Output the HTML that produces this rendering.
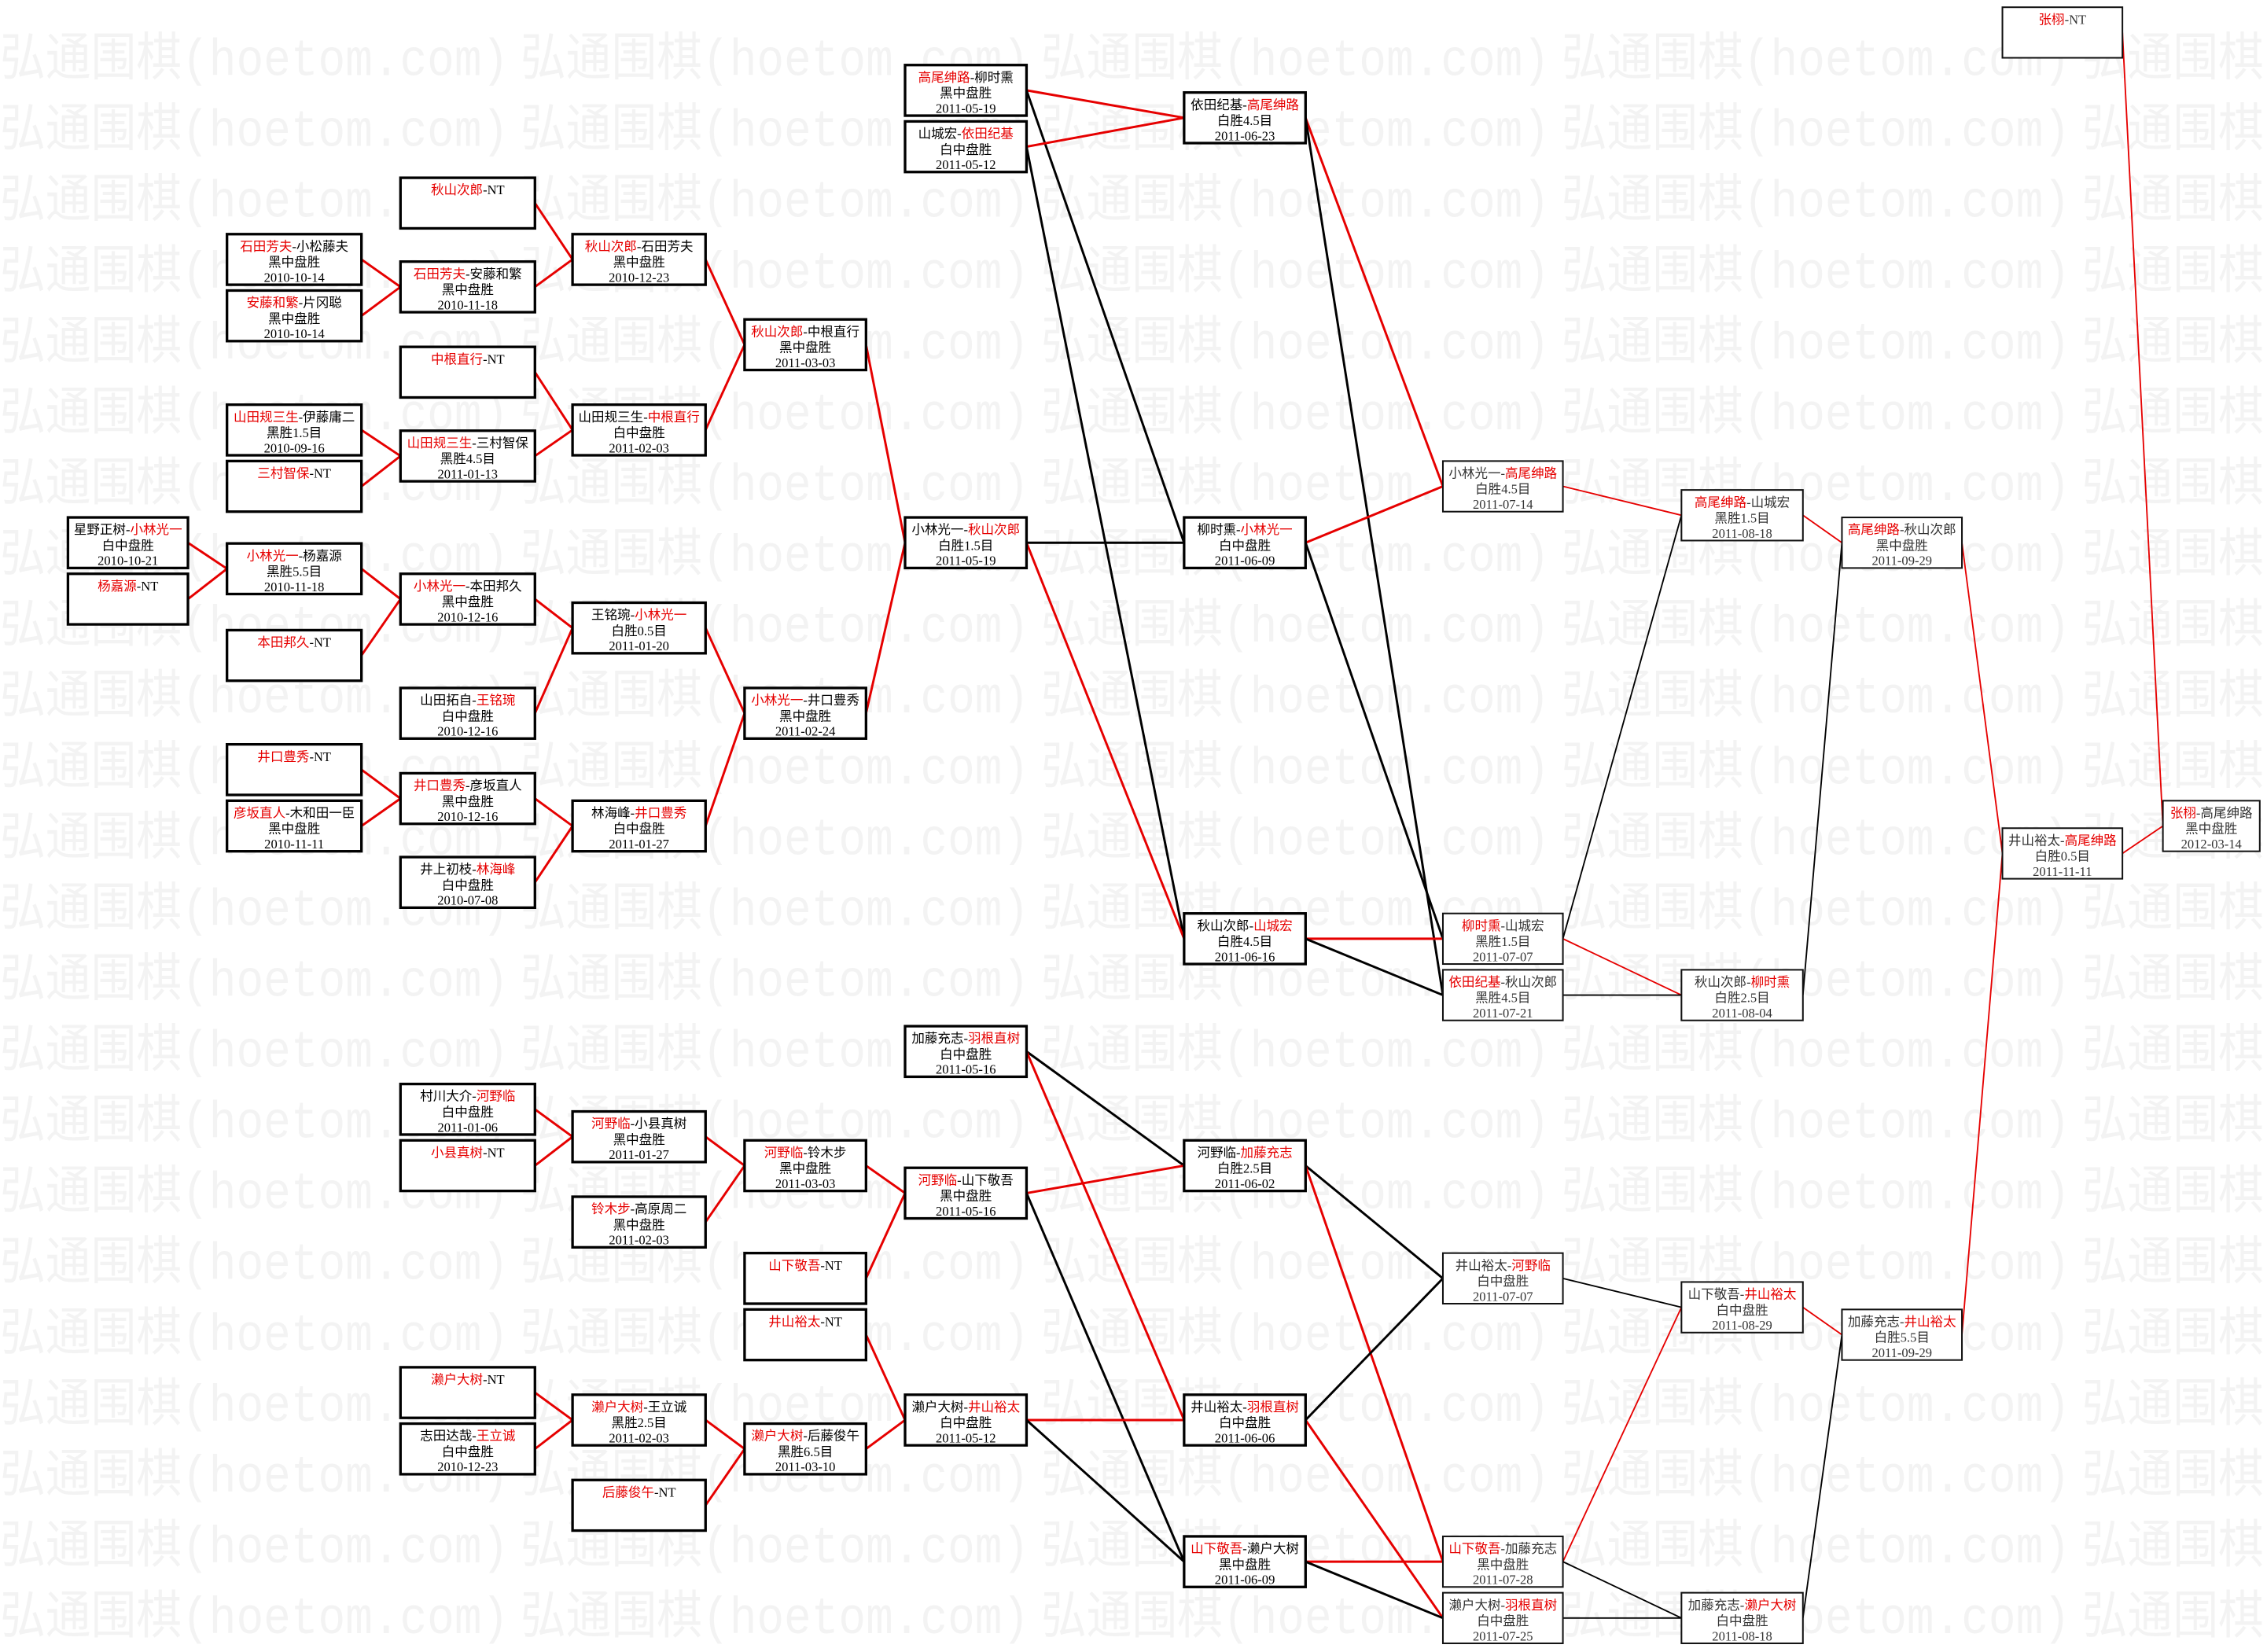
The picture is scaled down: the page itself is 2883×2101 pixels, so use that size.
<!DOCTYPE html>
<html><head><meta charset="utf-8"><style>
html,body{margin:0;padding:0;background:#fff;}
svg{display:block;}
.w{font-family:"Liberation Mono","Noto Sans CJK SC",monospace;font-size:36px;fill:#f3f3f3;}
.t{font-family:"Liberation Serif","Noto Sans CJK SC",serif;font-size:9px;fill:#000;text-anchor:middle;}
.t2{font-family:"Liberation Serif","Noto Sans CJK SC",serif;font-size:9px;fill:#333;text-anchor:middle;}
.r{fill:#e60000;}
.b{fill:#fff;stroke:#000;stroke-width:1.8;}
.b2{fill:#fff;stroke:#111;stroke-width:1.1;}
.lr{stroke:#e60000;stroke-width:1.6;}
.lk{stroke:#000;stroke-width:1.6;}
.sr{stroke:#e60000;stroke-width:1;}
.sk{stroke:#000;stroke-width:1;}
</style></head><body>
<svg width="2883" height="2101" viewBox="0 0 1568 1143" preserveAspectRatio="none" xmlns="http://www.w3.org/2000/svg">
<g class="w">
<text x="0" y="52" textLength="352" lengthAdjust="spacingAndGlyphs">弘通围棋(hoetom.com)</text><text x="360" y="52" textLength="352" lengthAdjust="spacingAndGlyphs">弘通围棋(hoetom.com)</text><text x="720" y="52" textLength="352" lengthAdjust="spacingAndGlyphs">弘通围棋(hoetom.com)</text><text x="1080" y="52" textLength="352" lengthAdjust="spacingAndGlyphs">弘通围棋(hoetom.com)</text><text x="1440" y="52" textLength="352" lengthAdjust="spacingAndGlyphs">弘通围棋(hoetom.com)</text>
<text x="0" y="101" textLength="352" lengthAdjust="spacingAndGlyphs">弘通围棋(hoetom.com)</text><text x="360" y="101" textLength="352" lengthAdjust="spacingAndGlyphs">弘通围棋(hoetom.com)</text><text x="720" y="101" textLength="352" lengthAdjust="spacingAndGlyphs">弘通围棋(hoetom.com)</text><text x="1080" y="101" textLength="352" lengthAdjust="spacingAndGlyphs">弘通围棋(hoetom.com)</text><text x="1440" y="101" textLength="352" lengthAdjust="spacingAndGlyphs">弘通围棋(hoetom.com)</text>
<text x="0" y="150" textLength="352" lengthAdjust="spacingAndGlyphs">弘通围棋(hoetom.com)</text><text x="360" y="150" textLength="352" lengthAdjust="spacingAndGlyphs">弘通围棋(hoetom.com)</text><text x="720" y="150" textLength="352" lengthAdjust="spacingAndGlyphs">弘通围棋(hoetom.com)</text><text x="1080" y="150" textLength="352" lengthAdjust="spacingAndGlyphs">弘通围棋(hoetom.com)</text><text x="1440" y="150" textLength="352" lengthAdjust="spacingAndGlyphs">弘通围棋(hoetom.com)</text>
<text x="0" y="199" textLength="352" lengthAdjust="spacingAndGlyphs">弘通围棋(hoetom.com)</text><text x="360" y="199" textLength="352" lengthAdjust="spacingAndGlyphs">弘通围棋(hoetom.com)</text><text x="720" y="199" textLength="352" lengthAdjust="spacingAndGlyphs">弘通围棋(hoetom.com)</text><text x="1080" y="199" textLength="352" lengthAdjust="spacingAndGlyphs">弘通围棋(hoetom.com)</text><text x="1440" y="199" textLength="352" lengthAdjust="spacingAndGlyphs">弘通围棋(hoetom.com)</text>
<text x="0" y="248" textLength="352" lengthAdjust="spacingAndGlyphs">弘通围棋(hoetom.com)</text><text x="360" y="248" textLength="352" lengthAdjust="spacingAndGlyphs">弘通围棋(hoetom.com)</text><text x="720" y="248" textLength="352" lengthAdjust="spacingAndGlyphs">弘通围棋(hoetom.com)</text><text x="1080" y="248" textLength="352" lengthAdjust="spacingAndGlyphs">弘通围棋(hoetom.com)</text><text x="1440" y="248" textLength="352" lengthAdjust="spacingAndGlyphs">弘通围棋(hoetom.com)</text>
<text x="0" y="297" textLength="352" lengthAdjust="spacingAndGlyphs">弘通围棋(hoetom.com)</text><text x="360" y="297" textLength="352" lengthAdjust="spacingAndGlyphs">弘通围棋(hoetom.com)</text><text x="720" y="297" textLength="352" lengthAdjust="spacingAndGlyphs">弘通围棋(hoetom.com)</text><text x="1080" y="297" textLength="352" lengthAdjust="spacingAndGlyphs">弘通围棋(hoetom.com)</text><text x="1440" y="297" textLength="352" lengthAdjust="spacingAndGlyphs">弘通围棋(hoetom.com)</text>
<text x="0" y="346" textLength="352" lengthAdjust="spacingAndGlyphs">弘通围棋(hoetom.com)</text><text x="360" y="346" textLength="352" lengthAdjust="spacingAndGlyphs">弘通围棋(hoetom.com)</text><text x="720" y="346" textLength="352" lengthAdjust="spacingAndGlyphs">弘通围棋(hoetom.com)</text><text x="1080" y="346" textLength="352" lengthAdjust="spacingAndGlyphs">弘通围棋(hoetom.com)</text><text x="1440" y="346" textLength="352" lengthAdjust="spacingAndGlyphs">弘通围棋(hoetom.com)</text>
<text x="0" y="395" textLength="352" lengthAdjust="spacingAndGlyphs">弘通围棋(hoetom.com)</text><text x="360" y="395" textLength="352" lengthAdjust="spacingAndGlyphs">弘通围棋(hoetom.com)</text><text x="720" y="395" textLength="352" lengthAdjust="spacingAndGlyphs">弘通围棋(hoetom.com)</text><text x="1080" y="395" textLength="352" lengthAdjust="spacingAndGlyphs">弘通围棋(hoetom.com)</text><text x="1440" y="395" textLength="352" lengthAdjust="spacingAndGlyphs">弘通围棋(hoetom.com)</text>
<text x="0" y="444" textLength="352" lengthAdjust="spacingAndGlyphs">弘通围棋(hoetom.com)</text><text x="360" y="444" textLength="352" lengthAdjust="spacingAndGlyphs">弘通围棋(hoetom.com)</text><text x="720" y="444" textLength="352" lengthAdjust="spacingAndGlyphs">弘通围棋(hoetom.com)</text><text x="1080" y="444" textLength="352" lengthAdjust="spacingAndGlyphs">弘通围棋(hoetom.com)</text><text x="1440" y="444" textLength="352" lengthAdjust="spacingAndGlyphs">弘通围棋(hoetom.com)</text>
<text x="0" y="493" textLength="352" lengthAdjust="spacingAndGlyphs">弘通围棋(hoetom.com)</text><text x="360" y="493" textLength="352" lengthAdjust="spacingAndGlyphs">弘通围棋(hoetom.com)</text><text x="720" y="493" textLength="352" lengthAdjust="spacingAndGlyphs">弘通围棋(hoetom.com)</text><text x="1080" y="493" textLength="352" lengthAdjust="spacingAndGlyphs">弘通围棋(hoetom.com)</text><text x="1440" y="493" textLength="352" lengthAdjust="spacingAndGlyphs">弘通围棋(hoetom.com)</text>
<text x="0" y="542" textLength="352" lengthAdjust="spacingAndGlyphs">弘通围棋(hoetom.com)</text><text x="360" y="542" textLength="352" lengthAdjust="spacingAndGlyphs">弘通围棋(hoetom.com)</text><text x="720" y="542" textLength="352" lengthAdjust="spacingAndGlyphs">弘通围棋(hoetom.com)</text><text x="1080" y="542" textLength="352" lengthAdjust="spacingAndGlyphs">弘通围棋(hoetom.com)</text><text x="1440" y="542" textLength="352" lengthAdjust="spacingAndGlyphs">弘通围棋(hoetom.com)</text>
<text x="0" y="591" textLength="352" lengthAdjust="spacingAndGlyphs">弘通围棋(hoetom.com)</text><text x="360" y="591" textLength="352" lengthAdjust="spacingAndGlyphs">弘通围棋(hoetom.com)</text><text x="720" y="591" textLength="352" lengthAdjust="spacingAndGlyphs">弘通围棋(hoetom.com)</text><text x="1080" y="591" textLength="352" lengthAdjust="spacingAndGlyphs">弘通围棋(hoetom.com)</text><text x="1440" y="591" textLength="352" lengthAdjust="spacingAndGlyphs">弘通围棋(hoetom.com)</text>
<text x="0" y="640" textLength="352" lengthAdjust="spacingAndGlyphs">弘通围棋(hoetom.com)</text><text x="360" y="640" textLength="352" lengthAdjust="spacingAndGlyphs">弘通围棋(hoetom.com)</text><text x="720" y="640" textLength="352" lengthAdjust="spacingAndGlyphs">弘通围棋(hoetom.com)</text><text x="1080" y="640" textLength="352" lengthAdjust="spacingAndGlyphs">弘通围棋(hoetom.com)</text><text x="1440" y="640" textLength="352" lengthAdjust="spacingAndGlyphs">弘通围棋(hoetom.com)</text>
<text x="0" y="689" textLength="352" lengthAdjust="spacingAndGlyphs">弘通围棋(hoetom.com)</text><text x="360" y="689" textLength="352" lengthAdjust="spacingAndGlyphs">弘通围棋(hoetom.com)</text><text x="720" y="689" textLength="352" lengthAdjust="spacingAndGlyphs">弘通围棋(hoetom.com)</text><text x="1080" y="689" textLength="352" lengthAdjust="spacingAndGlyphs">弘通围棋(hoetom.com)</text><text x="1440" y="689" textLength="352" lengthAdjust="spacingAndGlyphs">弘通围棋(hoetom.com)</text>
<text x="0" y="738" textLength="352" lengthAdjust="spacingAndGlyphs">弘通围棋(hoetom.com)</text><text x="360" y="738" textLength="352" lengthAdjust="spacingAndGlyphs">弘通围棋(hoetom.com)</text><text x="720" y="738" textLength="352" lengthAdjust="spacingAndGlyphs">弘通围棋(hoetom.com)</text><text x="1080" y="738" textLength="352" lengthAdjust="spacingAndGlyphs">弘通围棋(hoetom.com)</text><text x="1440" y="738" textLength="352" lengthAdjust="spacingAndGlyphs">弘通围棋(hoetom.com)</text>
<text x="0" y="787" textLength="352" lengthAdjust="spacingAndGlyphs">弘通围棋(hoetom.com)</text><text x="360" y="787" textLength="352" lengthAdjust="spacingAndGlyphs">弘通围棋(hoetom.com)</text><text x="720" y="787" textLength="352" lengthAdjust="spacingAndGlyphs">弘通围棋(hoetom.com)</text><text x="1080" y="787" textLength="352" lengthAdjust="spacingAndGlyphs">弘通围棋(hoetom.com)</text><text x="1440" y="787" textLength="352" lengthAdjust="spacingAndGlyphs">弘通围棋(hoetom.com)</text>
<text x="0" y="836" textLength="352" lengthAdjust="spacingAndGlyphs">弘通围棋(hoetom.com)</text><text x="360" y="836" textLength="352" lengthAdjust="spacingAndGlyphs">弘通围棋(hoetom.com)</text><text x="720" y="836" textLength="352" lengthAdjust="spacingAndGlyphs">弘通围棋(hoetom.com)</text><text x="1080" y="836" textLength="352" lengthAdjust="spacingAndGlyphs">弘通围棋(hoetom.com)</text><text x="1440" y="836" textLength="352" lengthAdjust="spacingAndGlyphs">弘通围棋(hoetom.com)</text>
<text x="0" y="885" textLength="352" lengthAdjust="spacingAndGlyphs">弘通围棋(hoetom.com)</text><text x="360" y="885" textLength="352" lengthAdjust="spacingAndGlyphs">弘通围棋(hoetom.com)</text><text x="720" y="885" textLength="352" lengthAdjust="spacingAndGlyphs">弘通围棋(hoetom.com)</text><text x="1080" y="885" textLength="352" lengthAdjust="spacingAndGlyphs">弘通围棋(hoetom.com)</text><text x="1440" y="885" textLength="352" lengthAdjust="spacingAndGlyphs">弘通围棋(hoetom.com)</text>
<text x="0" y="934" textLength="352" lengthAdjust="spacingAndGlyphs">弘通围棋(hoetom.com)</text><text x="360" y="934" textLength="352" lengthAdjust="spacingAndGlyphs">弘通围棋(hoetom.com)</text><text x="720" y="934" textLength="352" lengthAdjust="spacingAndGlyphs">弘通围棋(hoetom.com)</text><text x="1080" y="934" textLength="352" lengthAdjust="spacingAndGlyphs">弘通围棋(hoetom.com)</text><text x="1440" y="934" textLength="352" lengthAdjust="spacingAndGlyphs">弘通围棋(hoetom.com)</text>
<text x="0" y="983" textLength="352" lengthAdjust="spacingAndGlyphs">弘通围棋(hoetom.com)</text><text x="360" y="983" textLength="352" lengthAdjust="spacingAndGlyphs">弘通围棋(hoetom.com)</text><text x="720" y="983" textLength="352" lengthAdjust="spacingAndGlyphs">弘通围棋(hoetom.com)</text><text x="1080" y="983" textLength="352" lengthAdjust="spacingAndGlyphs">弘通围棋(hoetom.com)</text><text x="1440" y="983" textLength="352" lengthAdjust="spacingAndGlyphs">弘通围棋(hoetom.com)</text>
<text x="0" y="1032" textLength="352" lengthAdjust="spacingAndGlyphs">弘通围棋(hoetom.com)</text><text x="360" y="1032" textLength="352" lengthAdjust="spacingAndGlyphs">弘通围棋(hoetom.com)</text><text x="720" y="1032" textLength="352" lengthAdjust="spacingAndGlyphs">弘通围棋(hoetom.com)</text><text x="1080" y="1032" textLength="352" lengthAdjust="spacingAndGlyphs">弘通围棋(hoetom.com)</text><text x="1440" y="1032" textLength="352" lengthAdjust="spacingAndGlyphs">弘通围棋(hoetom.com)</text>
<text x="0" y="1081" textLength="352" lengthAdjust="spacingAndGlyphs">弘通围棋(hoetom.com)</text><text x="360" y="1081" textLength="352" lengthAdjust="spacingAndGlyphs">弘通围棋(hoetom.com)</text><text x="720" y="1081" textLength="352" lengthAdjust="spacingAndGlyphs">弘通围棋(hoetom.com)</text><text x="1080" y="1081" textLength="352" lengthAdjust="spacingAndGlyphs">弘通围棋(hoetom.com)</text><text x="1440" y="1081" textLength="352" lengthAdjust="spacingAndGlyphs">弘通围棋(hoetom.com)</text>
<text x="0" y="1130" textLength="352" lengthAdjust="spacingAndGlyphs">弘通围棋(hoetom.com)</text><text x="360" y="1130" textLength="352" lengthAdjust="spacingAndGlyphs">弘通围棋(hoetom.com)</text><text x="720" y="1130" textLength="352" lengthAdjust="spacingAndGlyphs">弘通围棋(hoetom.com)</text><text x="1080" y="1130" textLength="352" lengthAdjust="spacingAndGlyphs">弘通围棋(hoetom.com)</text><text x="1440" y="1130" textLength="352" lengthAdjust="spacingAndGlyphs">弘通围棋(hoetom.com)</text>
</g>

<g class="lr">
<line x1="130" y1="375.5" x2="157" y2="393.5"/><line x1="130" y1="414.5" x2="157" y2="393.5"/>
<line x1="250" y1="179.5" x2="277" y2="198.5"/><line x1="250" y1="218.5" x2="277" y2="198.5"/>
<line x1="250" y1="297.5" x2="277" y2="315.5"/><line x1="250" y1="336.5" x2="277" y2="315.5"/>
<line x1="250" y1="393.5" x2="277" y2="414.5"/><line x1="250" y1="453.5" x2="277" y2="414.5"/>
<line x1="250" y1="532.5" x2="277" y2="552.5"/><line x1="250" y1="571.5" x2="277" y2="552.5"/>
<line x1="370" y1="140.5" x2="396" y2="179.5"/><line x1="370" y1="198.5" x2="396" y2="179.5"/>
<line x1="370" y1="257.5" x2="396" y2="297.5"/><line x1="370" y1="315.5" x2="396" y2="297.5"/>
<line x1="370" y1="414.5" x2="396" y2="434.5"/><line x1="370" y1="493.5" x2="396" y2="434.5"/>
<line x1="370" y1="552.5" x2="396" y2="571.5"/><line x1="370" y1="610.5" x2="396" y2="571.5"/>
<line x1="370" y1="767.5" x2="396" y2="786.5"/><line x1="370" y1="806.5" x2="396" y2="786.5"/>
<line x1="370" y1="963.5" x2="396" y2="982.5"/><line x1="370" y1="1002.5" x2="396" y2="982.5"/>
<line x1="488" y1="179.5" x2="515" y2="238.5"/><line x1="488" y1="297.5" x2="515" y2="238.5"/>
<line x1="488" y1="434.5" x2="515" y2="493.5"/><line x1="488" y1="571.5" x2="515" y2="493.5"/>
<line x1="488" y1="786.5" x2="515" y2="806.5"/><line x1="488" y1="845.5" x2="515" y2="806.5"/>
<line x1="488" y1="982.5" x2="515" y2="1002.5"/><line x1="488" y1="1041.5" x2="515" y2="1002.5"/>
<line x1="599" y1="238.5" x2="626" y2="375.5"/><line x1="599" y1="493.5" x2="626" y2="375.5"/>
<line x1="599" y1="806.5" x2="626" y2="825.5"/><line x1="599" y1="884.5" x2="626" y2="825.5"/>
<line x1="599" y1="923.5" x2="626" y2="982.5"/><line x1="599" y1="1002.5" x2="626" y2="982.5"/>
</g>
<line class="lr" x1="710" y1="62.5" x2="819" y2="81.5"/>
<line class="lk" x1="710" y1="62.5" x2="819" y2="375.5"/>
<line class="lr" x1="710" y1="101.5" x2="819" y2="81.5"/>
<line class="lk" x1="710" y1="101.5" x2="819" y2="649.5"/>
<line class="lk" x1="710" y1="375.5" x2="819" y2="375.5"/>
<line class="lr" x1="710" y1="375.5" x2="819" y2="649.5"/>
<line class="lk" x1="710" y1="727.5" x2="819" y2="806.5"/>
<line class="lr" x1="710" y1="727.5" x2="819" y2="982.5"/>
<line class="lr" x1="710" y1="825.5" x2="819" y2="806.5"/>
<line class="lk" x1="710" y1="825.5" x2="819" y2="1080.5"/>
<line class="lr" x1="710" y1="982.5" x2="819" y2="982.5"/>
<line class="lk" x1="710" y1="982.5" x2="819" y2="1080.5"/>
<line class="lr" x1="903" y1="81.5" x2="998" y2="336.5"/>
<line class="lk" x1="903" y1="81.5" x2="998" y2="688.5"/>
<line class="lr" x1="903" y1="375.5" x2="998" y2="336.5"/>
<line class="lk" x1="903" y1="375.5" x2="998" y2="649.5"/>
<line class="lr" x1="903" y1="649.5" x2="998" y2="649.5"/>
<line class="lk" x1="903" y1="649.5" x2="998" y2="688.5"/>
<line class="lk" x1="903" y1="806.5" x2="998" y2="884.5"/>
<line class="lr" x1="903" y1="806.5" x2="998" y2="1080.5"/>
<line class="lk" x1="903" y1="982.5" x2="998" y2="884.5"/>
<line class="lr" x1="903" y1="982.5" x2="998" y2="1119.5"/>
<line class="lr" x1="903" y1="1080.5" x2="998" y2="1080.5"/>
<line class="lk" x1="903" y1="1080.5" x2="998" y2="1119.5"/>
<line class="sr" x1="1081" y1="336.5" x2="1163" y2="356.5"/>
<line class="sk" x1="1081" y1="649.5" x2="1163" y2="356.5"/>
<line class="sr" x1="1081" y1="649.5" x2="1163" y2="688.5"/>
<line class="sk" x1="1081" y1="688.5" x2="1163" y2="688.5"/>
<line class="sk" x1="1081" y1="884.5" x2="1163" y2="904.5"/>
<line class="sr" x1="1081" y1="1080.5" x2="1163" y2="904.5"/>
<line class="sk" x1="1081" y1="1080.5" x2="1163" y2="1119.5"/>
<line class="sk" x1="1081" y1="1119.5" x2="1163" y2="1119.5"/>
<line class="sr" x1="1247" y1="356.5" x2="1274" y2="375.5"/>
<line class="sk" x1="1247" y1="688.5" x2="1274" y2="375.5"/>
<line class="sr" x1="1247" y1="904.5" x2="1274" y2="923.5"/>
<line class="sk" x1="1247" y1="1119.5" x2="1274" y2="923.5"/>
<line class="sr" x1="1357" y1="375.5" x2="1385" y2="590.5"/>
<line class="sr" x1="1357" y1="923.5" x2="1385" y2="590.5"/>
<line class="sr" x1="1468" y1="22.5" x2="1496" y2="571.5"/>
<line class="sr" x1="1468" y1="590.5" x2="1496" y2="571.5"/>

<rect class="b" x="47" y="358" width="83" height="35"/><text class="t" x="88.5" y="369.5">星野正树-<tspan class="r">小林光一</tspan></text><text class="t" x="88.5" y="380.5">白中盘胜</text><text class="t" x="88.5" y="391">2010-10-21</text>
<rect class="b" x="47" y="397" width="83" height="35"/><text class="t" x="88.5" y="408.5"><tspan class="r">杨嘉源</tspan>-NT</text>
<rect class="b" x="157" y="162" width="93" height="35"/><text class="t" x="203.5" y="173.5"><tspan class="r">石田芳夫</tspan>-小松藤夫</text><text class="t" x="203.5" y="184.5">黑中盘胜</text><text class="t" x="203.5" y="195">2010-10-14</text>
<rect class="b" x="157" y="201" width="93" height="35"/><text class="t" x="203.5" y="212.5"><tspan class="r">安藤和繁</tspan>-片冈聪</text><text class="t" x="203.5" y="223.5">黑中盘胜</text><text class="t" x="203.5" y="234">2010-10-14</text>
<rect class="b" x="157" y="280" width="93" height="35"/><text class="t" x="203.5" y="291.5"><tspan class="r">山田规三生</tspan>-伊藤庸二</text><text class="t" x="203.5" y="302.5">黑胜1.5目</text><text class="t" x="203.5" y="313">2010-09-16</text>
<rect class="b" x="157" y="319" width="93" height="35"/><text class="t" x="203.5" y="330.5"><tspan class="r">三村智保</tspan>-NT</text>
<rect class="b" x="157" y="376" width="93" height="35"/><text class="t" x="203.5" y="387.5"><tspan class="r">小林光一</tspan>-杨嘉源</text><text class="t" x="203.5" y="398.5">黑胜5.5目</text><text class="t" x="203.5" y="409">2010-11-18</text>
<rect class="b" x="157" y="436" width="93" height="35"/><text class="t" x="203.5" y="447.5"><tspan class="r">本田邦久</tspan>-NT</text>
<rect class="b" x="157" y="515" width="93" height="35"/><text class="t" x="203.5" y="526.5"><tspan class="r">井口豊秀</tspan>-NT</text>
<rect class="b" x="157" y="554" width="93" height="35"/><text class="t" x="203.5" y="565.5"><tspan class="r">彦坂直人</tspan>-木和田一臣</text><text class="t" x="203.5" y="576.5">黑中盘胜</text><text class="t" x="203.5" y="587">2010-11-11</text>
<rect class="b" x="277" y="123" width="93" height="35"/><text class="t" x="323.5" y="134.5"><tspan class="r">秋山次郎</tspan>-NT</text>
<rect class="b" x="277" y="181" width="93" height="35"/><text class="t" x="323.5" y="192.5"><tspan class="r">石田芳夫</tspan>-安藤和繁</text><text class="t" x="323.5" y="203.5">黑中盘胜</text><text class="t" x="323.5" y="214">2010-11-18</text>
<rect class="b" x="277" y="240" width="93" height="35"/><text class="t" x="323.5" y="251.5"><tspan class="r">中根直行</tspan>-NT</text>
<rect class="b" x="277" y="298" width="93" height="35"/><text class="t" x="323.5" y="309.5"><tspan class="r">山田规三生</tspan>-三村智保</text><text class="t" x="323.5" y="320.5">黑胜4.5目</text><text class="t" x="323.5" y="331">2011-01-13</text>
<rect class="b" x="277" y="397" width="93" height="35"/><text class="t" x="323.5" y="408.5"><tspan class="r">小林光一</tspan>-本田邦久</text><text class="t" x="323.5" y="419.5">黑中盘胜</text><text class="t" x="323.5" y="430">2010-12-16</text>
<rect class="b" x="277" y="476" width="93" height="35"/><text class="t" x="323.5" y="487.5">山田拓自-<tspan class="r">王铭琬</tspan></text><text class="t" x="323.5" y="498.5">白中盘胜</text><text class="t" x="323.5" y="509">2010-12-16</text>
<rect class="b" x="277" y="535" width="93" height="35"/><text class="t" x="323.5" y="546.5"><tspan class="r">井口豊秀</tspan>-彦坂直人</text><text class="t" x="323.5" y="557.5">黑中盘胜</text><text class="t" x="323.5" y="568">2010-12-16</text>
<rect class="b" x="277" y="593" width="93" height="35"/><text class="t" x="323.5" y="604.5">井上初枝-<tspan class="r">林海峰</tspan></text><text class="t" x="323.5" y="615.5">白中盘胜</text><text class="t" x="323.5" y="626">2010-07-08</text>
<rect class="b" x="277" y="750" width="93" height="35"/><text class="t" x="323.5" y="761.5">村川大介-<tspan class="r">河野临</tspan></text><text class="t" x="323.5" y="772.5">白中盘胜</text><text class="t" x="323.5" y="783">2011-01-06</text>
<rect class="b" x="277" y="789" width="93" height="35"/><text class="t" x="323.5" y="800.5"><tspan class="r">小县真树</tspan>-NT</text>
<rect class="b" x="277" y="946" width="93" height="35"/><text class="t" x="323.5" y="957.5"><tspan class="r">濑户大树</tspan>-NT</text>
<rect class="b" x="277" y="985" width="93" height="35"/><text class="t" x="323.5" y="996.5">志田达哉-<tspan class="r">王立诚</tspan></text><text class="t" x="323.5" y="1007.5">白中盘胜</text><text class="t" x="323.5" y="1018">2010-12-23</text>
<rect class="b" x="396" y="162" width="92" height="35"/><text class="t" x="442" y="173.5"><tspan class="r">秋山次郎</tspan>-石田芳夫</text><text class="t" x="442" y="184.5">黑中盘胜</text><text class="t" x="442" y="195">2010-12-23</text>
<rect class="b" x="396" y="280" width="92" height="35"/><text class="t" x="442" y="291.5">山田规三生-<tspan class="r">中根直行</tspan></text><text class="t" x="442" y="302.5">白中盘胜</text><text class="t" x="442" y="313">2011-02-03</text>
<rect class="b" x="396" y="417" width="92" height="35"/><text class="t" x="442" y="428.5">王铭琬-<tspan class="r">小林光一</tspan></text><text class="t" x="442" y="439.5">白胜0.5目</text><text class="t" x="442" y="450">2011-01-20</text>
<rect class="b" x="396" y="554" width="92" height="35"/><text class="t" x="442" y="565.5">林海峰-<tspan class="r">井口豊秀</tspan></text><text class="t" x="442" y="576.5">白中盘胜</text><text class="t" x="442" y="587">2011-01-27</text>
<rect class="b" x="396" y="769" width="92" height="35"/><text class="t" x="442" y="780.5"><tspan class="r">河野临</tspan>-小县真树</text><text class="t" x="442" y="791.5">黑中盘胜</text><text class="t" x="442" y="802">2011-01-27</text>
<rect class="b" x="396" y="828" width="92" height="35"/><text class="t" x="442" y="839.5"><tspan class="r">铃木步</tspan>-高原周二</text><text class="t" x="442" y="850.5">黑中盘胜</text><text class="t" x="442" y="861">2011-02-03</text>
<rect class="b" x="396" y="965" width="92" height="35"/><text class="t" x="442" y="976.5"><tspan class="r">濑户大树</tspan>-王立诚</text><text class="t" x="442" y="987.5">黑胜2.5目</text><text class="t" x="442" y="998">2011-02-03</text>
<rect class="b" x="396" y="1024" width="92" height="35"/><text class="t" x="442" y="1035.5"><tspan class="r">后藤俊午</tspan>-NT</text>
<rect class="b" x="515" y="221" width="84" height="35"/><text class="t" x="557" y="232.5"><tspan class="r">秋山次郎</tspan>-中根直行</text><text class="t" x="557" y="243.5">黑中盘胜</text><text class="t" x="557" y="254">2011-03-03</text>
<rect class="b" x="515" y="476" width="84" height="35"/><text class="t" x="557" y="487.5"><tspan class="r">小林光一</tspan>-井口豊秀</text><text class="t" x="557" y="498.5">黑中盘胜</text><text class="t" x="557" y="509">2011-02-24</text>
<rect class="b" x="515" y="789" width="84" height="35"/><text class="t" x="557" y="800.5"><tspan class="r">河野临</tspan>-铃木步</text><text class="t" x="557" y="811.5">黑中盘胜</text><text class="t" x="557" y="822">2011-03-03</text>
<rect class="b" x="515" y="867" width="84" height="35"/><text class="t" x="557" y="878.5"><tspan class="r">山下敬吾</tspan>-NT</text>
<rect class="b" x="515" y="906" width="84" height="35"/><text class="t" x="557" y="917.5"><tspan class="r">井山裕太</tspan>-NT</text>
<rect class="b" x="515" y="985" width="84" height="35"/><text class="t" x="557" y="996.5"><tspan class="r">濑户大树</tspan>-后藤俊午</text><text class="t" x="557" y="1007.5">黑胜6.5目</text><text class="t" x="557" y="1018">2011-03-10</text>
<rect class="b" x="626" y="45" width="84" height="35"/><text class="t" x="668" y="56.5"><tspan class="r">高尾绅路</tspan>-柳时熏</text><text class="t" x="668" y="67.5">黑中盘胜</text><text class="t" x="668" y="78">2011-05-19</text>
<rect class="b" x="626" y="84" width="84" height="35"/><text class="t" x="668" y="95.5">山城宏-<tspan class="r">依田纪基</tspan></text><text class="t" x="668" y="106.5">白中盘胜</text><text class="t" x="668" y="117">2011-05-12</text>
<rect class="b" x="626" y="358" width="84" height="35"/><text class="t" x="668" y="369.5">小林光一-<tspan class="r">秋山次郎</tspan></text><text class="t" x="668" y="380.5">白胜1.5目</text><text class="t" x="668" y="391">2011-05-19</text>
<rect class="b" x="626" y="710" width="84" height="35"/><text class="t" x="668" y="721.5">加藤充志-<tspan class="r">羽根直树</tspan></text><text class="t" x="668" y="732.5">白中盘胜</text><text class="t" x="668" y="743">2011-05-16</text>
<rect class="b" x="626" y="808" width="84" height="35"/><text class="t" x="668" y="819.5"><tspan class="r">河野临</tspan>-山下敬吾</text><text class="t" x="668" y="830.5">黑中盘胜</text><text class="t" x="668" y="841">2011-05-16</text>
<rect class="b" x="626" y="965" width="84" height="35"/><text class="t" x="668" y="976.5">濑户大树-<tspan class="r">井山裕太</tspan></text><text class="t" x="668" y="987.5">白中盘胜</text><text class="t" x="668" y="998">2011-05-12</text>
<rect class="b" x="819" y="64" width="84" height="35"/><text class="t" x="861" y="75.5">依田纪基-<tspan class="r">高尾绅路</tspan></text><text class="t" x="861" y="86.5">白胜4.5目</text><text class="t" x="861" y="97">2011-06-23</text>
<rect class="b" x="819" y="358" width="84" height="35"/><text class="t" x="861" y="369.5">柳时熏-<tspan class="r">小林光一</tspan></text><text class="t" x="861" y="380.5">白中盘胜</text><text class="t" x="861" y="391">2011-06-09</text>
<rect class="b" x="819" y="632" width="84" height="35"/><text class="t" x="861" y="643.5">秋山次郎-<tspan class="r">山城宏</tspan></text><text class="t" x="861" y="654.5">白胜4.5目</text><text class="t" x="861" y="665">2011-06-16</text>
<rect class="b" x="819" y="789" width="84" height="35"/><text class="t" x="861" y="800.5">河野临-<tspan class="r">加藤充志</tspan></text><text class="t" x="861" y="811.5">白胜2.5目</text><text class="t" x="861" y="822">2011-06-02</text>
<rect class="b" x="819" y="965" width="84" height="35"/><text class="t" x="861" y="976.5">井山裕太-<tspan class="r">羽根直树</tspan></text><text class="t" x="861" y="987.5">白中盘胜</text><text class="t" x="861" y="998">2011-06-06</text>
<rect class="b" x="819" y="1063" width="84" height="35"/><text class="t" x="861" y="1074.5"><tspan class="r">山下敬吾</tspan>-濑户大树</text><text class="t" x="861" y="1085.5">黑中盘胜</text><text class="t" x="861" y="1096">2011-06-09</text>
<rect class="b2" x="998" y="319" width="83" height="35"/><text class="t2" x="1039.5" y="330.5">小林光一-<tspan class="r">高尾绅路</tspan></text><text class="t2" x="1039.5" y="341.5">白胜4.5目</text><text class="t2" x="1039.5" y="352">2011-07-14</text>
<rect class="b2" x="998" y="632" width="83" height="35"/><text class="t2" x="1039.5" y="643.5"><tspan class="r">柳时熏</tspan>-山城宏</text><text class="t2" x="1039.5" y="654.5">黑胜1.5目</text><text class="t2" x="1039.5" y="665">2011-07-07</text>
<rect class="b2" x="998" y="671" width="83" height="35"/><text class="t2" x="1039.5" y="682.5"><tspan class="r">依田纪基</tspan>-秋山次郎</text><text class="t2" x="1039.5" y="693.5">黑胜4.5目</text><text class="t2" x="1039.5" y="704">2011-07-21</text>
<rect class="b2" x="998" y="867" width="83" height="35"/><text class="t2" x="1039.5" y="878.5">井山裕太-<tspan class="r">河野临</tspan></text><text class="t2" x="1039.5" y="889.5">白中盘胜</text><text class="t2" x="1039.5" y="900">2011-07-07</text>
<rect class="b2" x="998" y="1063" width="83" height="35"/><text class="t2" x="1039.5" y="1074.5"><tspan class="r">山下敬吾</tspan>-加藤充志</text><text class="t2" x="1039.5" y="1085.5">黑中盘胜</text><text class="t2" x="1039.5" y="1096">2011-07-28</text>
<rect class="b2" x="998" y="1102" width="83" height="35"/><text class="t2" x="1039.5" y="1113.5">濑户大树-<tspan class="r">羽根直树</tspan></text><text class="t2" x="1039.5" y="1124.5">白中盘胜</text><text class="t2" x="1039.5" y="1135">2011-07-25</text>
<rect class="b2" x="1163" y="339" width="84" height="35"/><text class="t2" x="1205" y="350.5"><tspan class="r">高尾绅路</tspan>-山城宏</text><text class="t2" x="1205" y="361.5">黑胜1.5目</text><text class="t2" x="1205" y="372">2011-08-18</text>
<rect class="b2" x="1163" y="671" width="84" height="35"/><text class="t2" x="1205" y="682.5">秋山次郎-<tspan class="r">柳时熏</tspan></text><text class="t2" x="1205" y="693.5">白胜2.5目</text><text class="t2" x="1205" y="704">2011-08-04</text>
<rect class="b2" x="1163" y="887" width="84" height="35"/><text class="t2" x="1205" y="898.5">山下敬吾-<tspan class="r">井山裕太</tspan></text><text class="t2" x="1205" y="909.5">白中盘胜</text><text class="t2" x="1205" y="920">2011-08-29</text>
<rect class="b2" x="1163" y="1102" width="84" height="35"/><text class="t2" x="1205" y="1113.5">加藤充志-<tspan class="r">濑户大树</tspan></text><text class="t2" x="1205" y="1124.5">白中盘胜</text><text class="t2" x="1205" y="1135">2011-08-18</text>
<rect class="b2" x="1274" y="358" width="83" height="35"/><text class="t2" x="1315.5" y="369.5"><tspan class="r">高尾绅路</tspan>-秋山次郎</text><text class="t2" x="1315.5" y="380.5">黑中盘胜</text><text class="t2" x="1315.5" y="391">2011-09-29</text>
<rect class="b2" x="1274" y="906" width="83" height="35"/><text class="t2" x="1315.5" y="917.5">加藤充志-<tspan class="r">井山裕太</tspan></text><text class="t2" x="1315.5" y="928.5">白胜5.5目</text><text class="t2" x="1315.5" y="939">2011-09-29</text>
<rect class="b2" x="1385" y="5" width="83" height="35"/><text class="t2" x="1426.5" y="16.5"><tspan class="r">张栩</tspan>-NT</text>
<rect class="b2" x="1385" y="573" width="83" height="35"/><text class="t2" x="1426.5" y="584.5">井山裕太-<tspan class="r">高尾绅路</tspan></text><text class="t2" x="1426.5" y="595.5">白胜0.5目</text><text class="t2" x="1426.5" y="606">2011-11-11</text>
<rect class="b2" x="1496" y="554" width="67" height="35"/><text class="t2" x="1529.5" y="565.5"><tspan class="r">张栩</tspan>-高尾绅路</text><text class="t2" x="1529.5" y="576.5">黑中盘胜</text><text class="t2" x="1529.5" y="587">2012-03-14</text>
</svg>
</body></html>
